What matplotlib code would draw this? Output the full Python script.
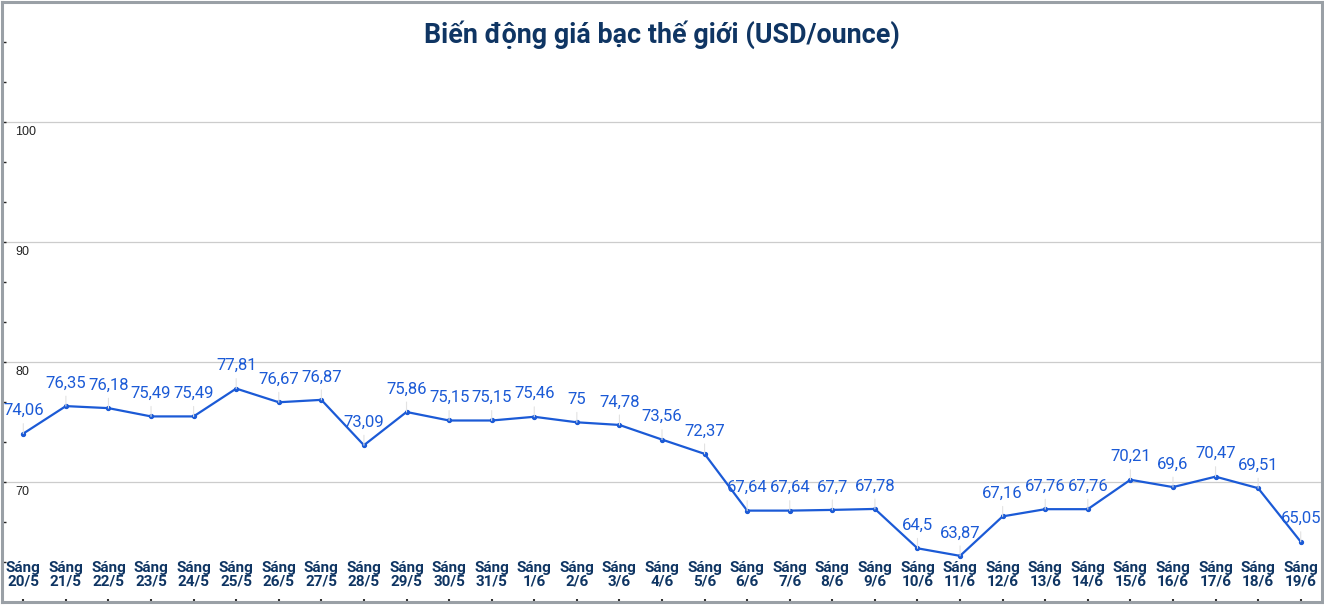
import matplotlib
matplotlib.use('Agg')

import matplotlib.pyplot as plt
import numpy as np

plt.rcParams['font.family'] = ['Roboto', 'DejaVu Sans']

dates = ['20/5', '21/5', '22/5', '23/5', '24/5', '25/5', '26/5', '27/5', '28/5', '29/5',
         '30/5', '31/5', '1/6', '2/6', '3/6', '4/6', '5/6', '6/6', '7/6', '8/6',
         '9/6', '10/6', '11/6', '12/6', '13/6', '14/6', '15/6', '16/6', '17/6', '18/6', '19/6']
prices = [74.06, 76.35, 76.18, 75.49, 75.49, 77.81, 76.67, 76.87, 73.09, 75.86,
          75.15, 75.15, 75.46, 75.00, 74.78, 73.56, 72.37, 67.64, 67.64, 67.70,
          67.78, 64.50, 63.87, 67.16, 67.76, 67.76, 70.21, 69.60, 70.47, 69.51, 65.05]
grid_values = [70, 80, 90, 100]

line_color = '#1b5ad6'
navy = '#0f3563'
border = '#9aa0a6'


def fmt(v):
    # Vietnamese decimal comma, drop trailing zeros
    s = ('%.2f' % v).rstrip('0').rstrip('.')
    return s.replace('.', ',')


fig = plt.figure(figsize=(13.24, 6.05), dpi=100)
ax = fig.add_axes([2 / 1324, 2.7 / 605, 1320 / 1324, 600 / 605])

x = np.arange(len(dates))
ax.plot(x, prices, color=line_color, lw=1.6, marker='o', markersize=2.8, zorder=3)

for xi, v in zip(x, prices):
    ax.annotate(fmt(v), xy=(xi, v), xytext=(0, 23), textcoords='offset pixels',
                ha='center', va='center', fontsize=12, color=line_color,
                arrowprops=dict(arrowstyle='-', color='#e2e2e2', lw=0.8,
                                shrinkA=2, shrinkB=0), zorder=4)

ax.set_xlim(-0.5, len(dates) - 0.5)
ax.set_ylim(60, 110)

for g in grid_values:
    ax.axhline(g, color='#cccccc', lw=0.9, zorder=1)
    ax.annotate(str(g), xy=(0, g), xycoords=ax.get_yaxis_transform(),
                xytext=(13, -4), textcoords='offset pixels', ha='left', va='top',
                fontsize=9, color='#222222', family=['Liberation Sans', 'DejaVu Sans'])

ax.set_yticks(np.linspace(60, 110, 16))
ax.set_yticklabels([])
ax.tick_params(axis='y', direction='in', length=3, width=1, color='#222222')

ax.set_xticks(x)
ax.set_xticklabels(['Sáng\n' + d for d in dates], fontsize=11, fontweight='bold',
                   color=navy, linespacing=1.0)
ax.tick_params(axis='x', direction='in', length=2, width=1.5, color='#333333', pad=-30)

for side in ['top', 'left', 'right', 'bottom']:
    ax.spines[side].set_color(border)
    ax.spines[side].set_linewidth(2.2)

fig.text(0.5, 1 - 35 / 605, 'Biến động giá bạc thế giới (USD/ounce)', ha='center',
         va='center', fontsize=19.4, fontweight='bold', color=navy)

fig.savefig('out.png', dpi=100)
plt.close(fig)
